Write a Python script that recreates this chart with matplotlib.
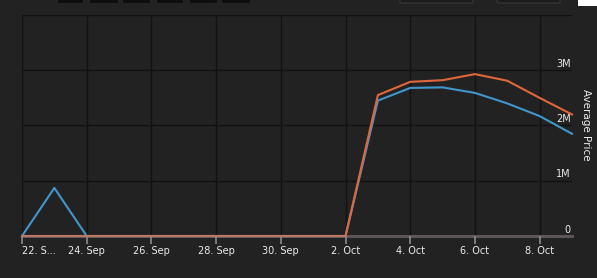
import matplotlib
matplotlib.use("Agg")
import matplotlib.pyplot as plt
import matplotlib.transforms as mtransforms
from matplotlib.patches import FancyBboxPatch
import pandas as pd

# ---------------------------------------------------------------------------
# Data
# ---------------------------------------------------------------------------
dates = pd.date_range("2023-09-22", "2023-10-09", freq="D")

blue_vals = [0, 0.87e6, 0, 0, 0, 0, 0, 0, 0, 0, 0,
             2.45e6, 2.68e6, 2.69e6, 2.59e6, 2.40e6, 2.17e6, 1.85e6]
orange_vals = [0, 0, 0, 0, 0, 0, 0, 0, 0, 0, 0,
               2.55e6, 2.79e6, 2.82e6, 2.93e6, 2.81e6, 2.50e6, 2.20e6]

tick_dates = pd.date_range("2023-09-22", "2023-10-08", freq="2D")
tick_labels = ["22. S...", "24. Sep", "26. Sep", "28. Sep", "30. Sep",
               "2. Oct", "4. Oct", "6. Oct", "8. Oct"]
y_ticks = [0, 1e6, 2e6, 3e6, 4e6]
y_tick_labels = ["0", "1M", "2M", "3M", ""]

BG = "#222222"
GRID = "#121212"
BLUE = "#4196cc"
ORANGE = "#e0673c"
TEXT = "#ececec"

# ---------------------------------------------------------------------------
# Figure
# ---------------------------------------------------------------------------
W, H = 597, 278
fig = plt.figure(figsize=(W / 100, H / 100), dpi=100, facecolor=BG)
ax = fig.add_axes([22 / W, (H - 236) / H, (572 - 22) / W, (236 - 15) / H])
ax.set_facecolor(BG)

ax.set_xlim(dates[0], dates[-1])
ax.set_ylim(0, 4e6)

# grid
for d in tick_dates:
    ax.axvline(d, color=GRID, linewidth=1, zorder=1)
for v in y_ticks[1:]:
    ax.axhline(v, color=GRID, linewidth=1, zorder=1)

ax.plot(dates, blue_vals, color=BLUE, linewidth=1.5, zorder=3, clip_on=False)
ax.plot(dates, orange_vals, color=ORANGE, linewidth=1.5, zorder=4, clip_on=False)

for s in ax.spines.values():
    s.set_visible(False)
ax.axhline(0, color="#9a8a8a", linewidth=2.2, alpha=0.5, zorder=5, clip_on=False)

ax.set_xticks(tick_dates)
ax.set_xticklabels(tick_labels, fontsize=7)
ax.tick_params(axis="x", colors="#8a8a8a", length=6, width=1.2, pad=1.5,
               labelcolor=TEXT)
ax.get_xticklabels()[0].set_horizontalalignment("left")
ax.set_yticks([])

# y labels drawn inside the plot on the right
trans = mtransforms.blended_transform_factory(ax.transAxes, ax.transData)
for v, lab in zip(y_ticks, y_tick_labels):
    if lab:
        ax.text(0.998, v + 0.025e6, lab, transform=trans, ha="right", va="bottom",
                color=TEXT, fontsize=7)

fig.text(586 / W, 1 - 125 / H, "Average Price", rotation=270, ha="center",
         va="center", color=TEXT, fontsize=7.5)

# partial toolbar buttons at the top edge
for x0, x1 in [(58, 83), (90, 118), (123, 150), (157, 183), (190, 217), (222, 250)]:
    fig.patches.append(FancyBboxPatch((x0 / W, 1 - 3 / H), (x1 - x0) / W, 6 / H,
                                      boxstyle="round,pad=0,rounding_size=0.004",
                                      transform=fig.transFigure, facecolor="#0e0e0e",
                                      edgecolor="none"))
for x0, x1 in [(400, 473), (497, 560)]:
    fig.patches.append(FancyBboxPatch((x0 / W, 1 - 3 / H), (x1 - x0) / W, 6 / H,
                                      boxstyle="round,pad=0,rounding_size=0.004",
                                      transform=fig.transFigure, facecolor="#1c1c1c",
                                      edgecolor="#3a3a3a", linewidth=0.8))
fig.patches.append(plt.Rectangle((578 / W, 1 - 6 / H), 19 / W, 6 / H,
                                 transform=fig.transFigure, facecolor="white",
                                 edgecolor="none"))

fig.savefig("out.png", dpi=100, facecolor=BG)
